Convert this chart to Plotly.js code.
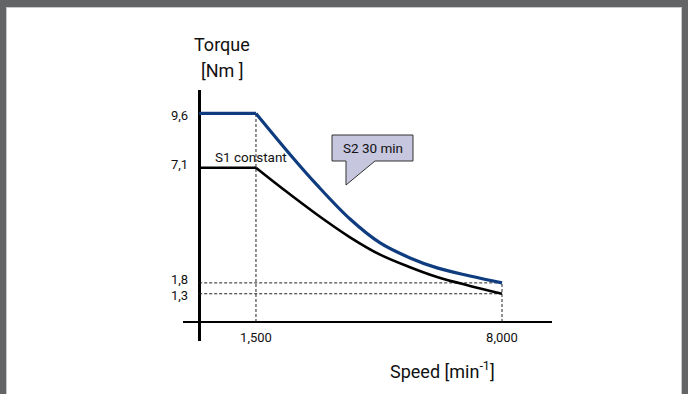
<!DOCTYPE html>
<html><head><meta charset="utf-8">
<script src="https://cdn.plot.ly/plotly-3.0.1.min.js"></script>
<style>
html,body{margin:0;padding:0;background:#636466;width:688px;height:394px;overflow:hidden}
#chart{position:absolute;left:7px;top:8px;width:674px;height:386px;background:#fff;box-shadow:0 0 0 1px #c9c9c9}
</style></head><body><div id="chart"></div>
<script>
// ---- data ----
const speedTicks = [1500, 8000];
const speedTickText = ['1,500', '8,000'];
const torqueTicks = [9.6, 7.1, 1.8, 1.3];
const torqueTickText = ['9,6', '7,1', '1,8', '1,3'];

// S2 30 min (blue)
const s2FlatSpeed = [0, 1500];
const s2FlatTorque = [9.6, 9.6];
const s2CurveSpeed = [1500, 2480, 3110, 3985, 4780, 5570, 6285, 7155, 8000];
const s2CurveTorque = [9.6, 7.55, 6.31, 4.74, 3.64, 2.95, 2.49, 2.12, 1.8];

// S1 constant (black)
const s1FlatSpeed = [0, 1500];
const s1FlatTorque = [7.1, 7.1];
const s1CurveSpeed = [1500, 2215, 3110, 3985, 4780, 5570, 6285, 7155, 8000];
const s1CurveTorque = [7.1, 6.12, 4.95, 3.9, 3.1, 2.52, 2.07, 1.66, 1.3];

// ---- styles ----
const FONT = "Roboto, 'DejaVu Sans Condensed', sans-serif";
const BLUE = '#0f3c7e';
const guide = {mode: 'lines', line: {color: '#222', width: 1, dash: '3px,2px'}, hoverinfo: 'skip', showlegend: false};

const nMax = speedTicks[1];
const nRated = speedTicks[0];
const traces = [
  Object.assign({x: [nRated, nRated], y: [0, s2FlatTorque[0]]}, guide),
  Object.assign({x: [nMax, nMax], y: [0, s2CurveTorque[s2CurveTorque.length - 1]]}, guide),
  Object.assign({x: [0, nMax], y: [torqueTicks[2], torqueTicks[2]]}, guide),
  Object.assign({x: [0, nMax], y: [torqueTicks[3], torqueTicks[3]]}, guide),
  {x: s1FlatSpeed, y: s1FlatTorque, mode: 'lines', line: {color: '#000', width: 2.6}, showlegend: false},
  {x: s1CurveSpeed, y: s1CurveTorque, mode: 'lines', line: {color: '#000', width: 2.6, shape: 'spline', smoothing: 1}, showlegend: false},
  {x: s2FlatSpeed, y: s2FlatTorque, mode: 'lines', line: {color: BLUE, width: 3.2}, showlegend: false},
  {x: s2CurveSpeed, y: s2CurveTorque, mode: 'lines', line: {color: BLUE, width: 3.2, shape: 'spline', smoothing: 1}, showlegend: false}
];

// plot area in page px: left 183, right 552, top 90, bottom 341
const L = 183, R = 552, T = 90, B = 341;
const px = X => (X - L) / (R - L);
const py = Y => (B - Y) / (B - T);
const calloutPts = [[332,135],[413,135],[413,161],[375,161],[346,185],[346,161],[332,161]];
const calloutPath = 'M' + calloutPts.map(p => px(p[0]).toFixed(4) + ',' + py(p[1]).toFixed(4)).join(' L') + ' Z';

// y tick labels drawn as annotations so the two close labels can be spaced apart
const tickShift = [-2, 3, 3, -2];
const yTickAnnots = torqueTicks.map((v, i) => ({
  xref: 'paper', yref: 'y', x: px(190), y: v, text: torqueTickText[i], showarrow: false,
  xanchor: 'right', yanchor: 'middle', yshift: tickShift[i],
  font: {family: FONT, size: 13, color: '#111'}
}));

const layout = {
  width: 674, height: 386,
  margin: {l: L - 7, r: 681 - R, t: T - 8, b: 394 - B, pad: 0},
  paper_bgcolor: '#fff', plot_bgcolor: 'rgba(0,0,0,0)',
  font: {family: FONT, color: '#111', size: 13},
  xaxis: {
    range: [-428, 9321], showgrid: false, showline: false, ticks: '',
    zeroline: true, zerolinecolor: '#000', zerolinewidth: 2.6,
    tickvals: speedTicks, ticktext: speedTickText,
    tickfont: {family: FONT, size: 13, color: '#111'},
    ticklabelstandoff: -13
  },
  yaxis: {
    range: [-0.875, 10.68], showgrid: false, showline: false, ticks: '',
    zeroline: true, zerolinecolor: '#000', zerolinewidth: 2.6,
    tickvals: torqueTicks, showticklabels: false
  },
  shapes: [
    {type: 'path', xref: 'paper', yref: 'paper', path: calloutPath,
     fillcolor: '#c6c6de', line: {color: '#333', width: 1}, layer: 'above'}
  ],
  annotations: yTickAnnots.concat([
    {xref: 'paper', yref: 'paper', x: px(222), y: py(45), text: 'Torque', showarrow: false,
     xanchor: 'center', yanchor: 'middle', font: {family: FONT, size: 18, color: '#111'}},
    {xref: 'paper', yref: 'paper', x: px(222), y: py(70), text: '[Nm ]', showarrow: false,
     xanchor: 'center', yanchor: 'middle', font: {family: FONT, size: 18, color: '#111'}},
    {xref: 'paper', yref: 'paper', x: px(442), y: py(370), text: 'Speed [min<sup>-1</sup>]', showarrow: false,
     xanchor: 'center', yanchor: 'middle', font: {family: FONT, size: 18, color: '#111'}},
    {x: 370, y: 7.6, text: 'S1 constant', showarrow: false, xanchor: 'left', yanchor: 'middle',
     font: {family: FONT, size: 13.5, color: '#111'}},
    {xref: 'paper', yref: 'paper', x: px(373), y: py(148), text: 'S2 30 min', showarrow: false,
     xanchor: 'center', yanchor: 'middle', font: {family: FONT, size: 13.5, color: '#111'}}
  ])
};

Plotly.newPlot('chart', traces, layout, {displayModeBar: false, staticPlot: true});
</script></body></html>
